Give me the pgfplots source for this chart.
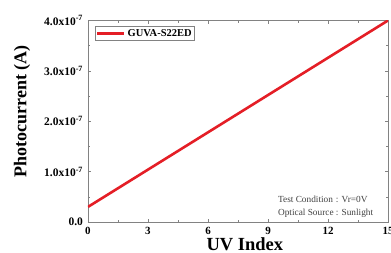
\documentclass[border=0pt]{standalone}
\usepackage{fontspec}
\setmainfont{Liberation Serif}
\usepackage{pgfplots}
\pgfplotsset{compat=1.18}
\definecolor{linered}{RGB}{228,30,38}
\definecolor{framegray}{RGB}{130,130,130}
\begin{document}
\begin{tikzpicture}
\begin{axis}[
  name=ax,
  scale only axis,
  width=300bp, height=201.5bp,
  xmin=0, xmax=15, ymin=0, ymax=4,
  xtick={0,3,6,9,12,15},
  ytick={0,1,2,3,4},
  yticklabels={0.0, 1.0x10\textsuperscript{-7}, 2.0x10\textsuperscript{-7}, 3.0x10\textsuperscript{-7}, 4.0x10\textsuperscript{-7}},
  xticklabels={0,3,6,9,12,15},
  minor x tick num=1,
  minor y tick num=1,
  major tick length=3bp,
  minor tick length=2bp,
  axis line style={framegray, line width=0.8bp},
  every tick/.style={framegray, line width=0.6bp},
  tick label style={font=\bfseries\fontsize{11bp}{12bp}\selectfont, black},
  yticklabel style={xshift=-1.5bp, font=\bfseries\fontsize{11.5bp}{12bp}\selectfont},
  xticklabel style={yshift=-1.5bp},
  xlabel={UV Index},
  ylabel={Photocurrent (A)},
  label style={font=\bfseries\fontsize{18.5bp}{20bp}\selectfont},
  xlabel style={at={(axis description cs:0.523,-0.112)}, anchor=center, inner sep=0pt},
  ylabel style={at={(axis description cs:-0.22,0.55)}, anchor=center, font=\bfseries\fontsize{18bp}{22bp}\selectfont},
  legend style={at={(0,1)}, anchor=north west, xshift=7bp, yshift=-5.5bp,
    draw=framegray, line width=0.5bp, inner sep=1bp,
    font=\bfseries\fontsize{10.5bp}{12bp}\selectfont},
  legend cell align=left,
  legend image code/.code={\draw[#1, line width=2.5bp] (0bp,0bp) -- (27bp,0bp);},
]
\addplot[linered, line width=2.6bp] coordinates {(0,0.3) (15,4.0)};
\addlegendentry{GUVA-S22ED}
\node[anchor=north west, inner sep=0pt, text=black!75, font=\fontsize{9.3bp}{13bp}\selectfont]
  at (rel axis cs:0.633,0.145) {\begin{tabular}{@{}l@{ : }l@{}}Test Condition & Vr=0V\\ Optical Source & Sunlight\end{tabular}};
\end{axis}
\pgfresetboundingbox
\path (ax.south west) ++(-88bp,-31bp) rectangle ++(391bp,253bp);
\end{tikzpicture}
\end{document}
